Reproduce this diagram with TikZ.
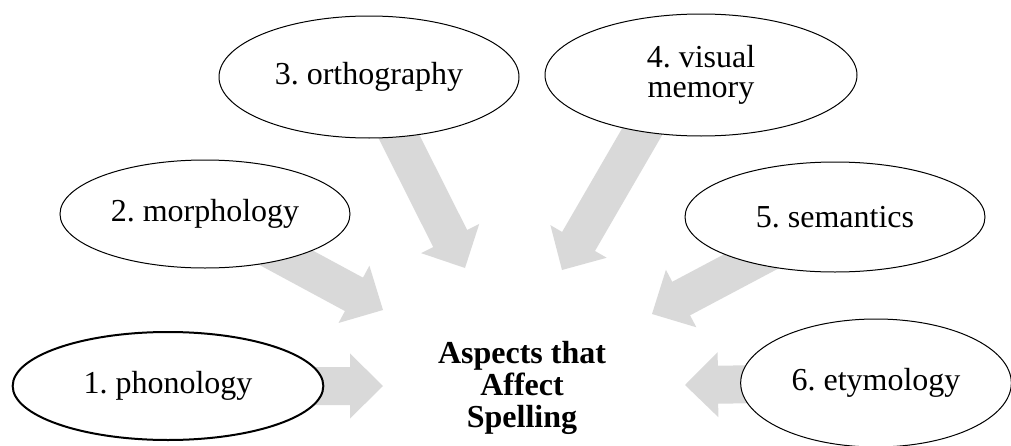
\documentclass[tikz,border=0pt]{standalone}
\usepackage{fontspec}
\setmainfont{Liberation Serif}
\usetikzlibrary{shapes.geometric,calc,backgrounds}
\frenchspacing

\definecolor{arrowgray}{RGB}{217,217,217}

\tikzset{
  bubble/.style={ellipse, draw, fill=white, line width=0.75pt, inner sep=0pt,
    align=center, font=\fontsize{24}{22}\selectfont},
  core/.style={align=center, font=\fontsize{24}{24}\selectfont\bfseries}
}

% wide grey arrow, from #1 (hidden under the ellipse) to the tip #2
\newcommand{\fatarrow}[2]{%
  \coordinate (hb) at ($(#2)!24.75pt!(#1)$);
  \fill[arrowgray] ($(#1)!14.25pt!90:(#2)$) -- ($(hb)!14.25pt!90:(#2)$)
    -- ($(hb)!24.4pt!90:(#2)$) -- (#2) -- ($(hb)!24.4pt!-90:(#2)$)
    -- ($(hb)!14.25pt!-90:(#2)$) -- ($(#1)!14.25pt!-90:(#2)$) -- cycle;
}

\begin{document}
\begin{tikzpicture}[x=0.75pt,y=0.75pt,yscale=-1,xscale=1]
\useasboundingbox (0,0) rectangle (1011,446);

%Shape: Ellipse [phonology]
\node[bubble, line width=1.5pt, minimum width=233pt, minimum height=81pt] (phon) at (168,386) {1. phonology};
%Shape: Ellipse [morphology]
\node[bubble, minimum width=217.5pt, minimum height=81pt] (morph) at (205,214) {2. morphology};
%Shape: Ellipse [orthography]
\node[bubble, minimum width=225pt, minimum height=91.5pt] (orth) at (369,77) {3. orthography};
%Shape: Ellipse [visual memory]
\node[bubble, minimum width=234pt, minimum height=91.5pt] (mem) at (701,75) {4. visual\\memory};
%Shape: Ellipse [semantics]
\node[bubble, minimum width=225pt, minimum height=82.5pt] (sem) at (835,217) {5. semantics};
%Shape: Ellipse [etymology]
\node[bubble, minimum width=203pt, minimum height=96pt] (ety) at (876,383) {6. etymology};

% Text Node
\node[core] (aspects) at (522,388) {Aspects that\\Affect\\Spelling};

% arrow tips
\coordinate (t1) at (383,386);
\coordinate (t2) at (383,310);
\coordinate (t3) at (465,268);
\coordinate (t4) at (562,270);
\coordinate (t5) at (652,314);
\coordinate (t6) at (685,385);
\coordinate (memfoot) at ($(mem)+(-26,0)$);

\begin{pgfonlayer}{background}
\fatarrow{phon}{t1}
\fatarrow{morph}{t2}
\fatarrow{orth}{t3}
\fatarrow{memfoot}{t4}
\fatarrow{sem}{t5}
\fatarrow{ety}{t6}
\end{pgfonlayer}

\end{tikzpicture}
\end{document}
